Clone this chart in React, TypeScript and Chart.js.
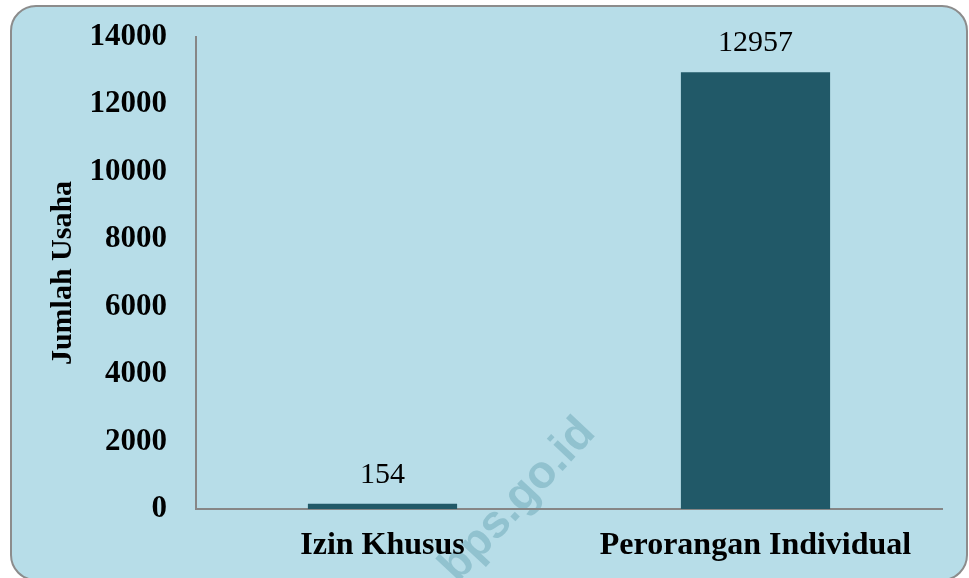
import React, { useEffect, useRef } from "react";
import { Chart, registerables } from "chart.js";

Chart.register(...registerables);

const categories = ["Izin Khusus", "Perorangan Individual"];
const values = [154, 12957];
const yTicks = [0, 2000, 4000, 6000, 8000, 10000, 12000, 14000];
const axisTitle = "Jumlah Usaha";
const watermark = "bps.go.id";

const SERIF = "'Liberation Serif', 'Times New Roman', serif";

export default function App() {
  const ref = useRef<HTMLCanvasElement | null>(null);

  useEffect(() => {
    if (!ref.current) return;
    const labelPlugin = {
      id: "valueLabels",
      afterDatasetsDraw(chart: any) {
        const ctx = chart.ctx;
        const meta = chart.getDatasetMeta(0);
        ctx.save();
        ctx.font = `30px ${SERIF}`;
        ctx.fillStyle = "#000";
        ctx.textAlign = "center";
        ctx.textBaseline = "middle";
        meta.data.forEach((bar: any, i: number) => {
          ctx.fillText(String(values[i]), bar.x, bar.y - 29);
        });
        ctx.restore();
      },
    };
    const wmPlugin = {
      id: "watermark",
      beforeDraw(chart: any) {
        const ctx = chart.ctx;
        ctx.save();
        ctx.translate(518, 500);
        ctx.rotate((-47 * Math.PI) / 180);
        ctx.font = `bold 46px 'Liberation Sans', Arial, sans-serif`;
        ctx.fillStyle = "rgba(40,115,135,0.26)";
        ctx.textAlign = "center";
        ctx.textBaseline = "middle";
        ctx.fillText(watermark, 0, 0);
        ctx.restore();
      },
    };
    const chart = new Chart(ref.current, {
      type: "bar",
      data: {
        labels: categories,
        datasets: [
          {
            data: values,
            backgroundColor: "#215968",
            borderWidth: 0,
            barPercentage: 0.4,
            categoryPercentage: 1,
          },
        ],
      },
      options: {
        animation: false,
        responsive: false,
        devicePixelRatio: 1,
        layout: { padding: { top: 37, right: 27, left: 0, bottom: 0 } },
        plugins: {
          legend: { display: false },
          tooltip: { enabled: false },
        },
        scales: {
          x: {
            grid: { display: false, drawTicks: false },
            border: { display: true, color: "#868686", width: 2 },
            ticks: {
              padding: 18,
              color: "#000",
              font: { family: SERIF, size: 32, weight: "bold" },
            },
            afterFit(scale: any) {
              scale.height = 69;
            },
          },
          y: {
            min: 0,
            max: 14000,
            grid: { display: false, drawTicks: false },
            border: { display: true, color: "#868686", width: 2 },
            afterBuildTicks(scale: any) {
              scale.ticks = yTicks.map((v) => ({ value: v }));
            },
            ticks: {
              padding: 29,
              color: "#000",
              font: { family: SERIF, size: 31, weight: "bold" },
              callback: (v: any) => String(v),
            },
            title: {
              display: true,
              text: axisTitle,
              color: "#000",
              font: { family: SERIF, size: 30, weight: "bold" },
              padding: { top: 45, bottom: 0 },
            },
            afterFit(scale: any) {
              scale.width = 196;
              scale.paddingTop = 0;
              scale.paddingBottom = 0;
            },
          },
        },
      },
      plugins: [labelPlugin, wmPlugin],
    });
    return () => chart.destroy();
  }, []);

  return (
    <div style={{ position: "absolute", left: 0, top: 0, width: 969, height: 578, overflow: "hidden", background: "#fff" }}>
      <div
        style={{
          position: "absolute",
          left: 10,
          top: 5,
          width: 958,
          height: 576,
          boxSizing: "border-box",
          border: "2px solid #8c8c8c",
          borderRadius: 26,
          background: "#b7dde8",
        }}
      />
      <canvas
        ref={ref}
        width={969}
        height={578}
        style={{ position: "absolute", left: 0, top: 0, width: 969, height: 578 }}
      />
    </div>
  );
}
